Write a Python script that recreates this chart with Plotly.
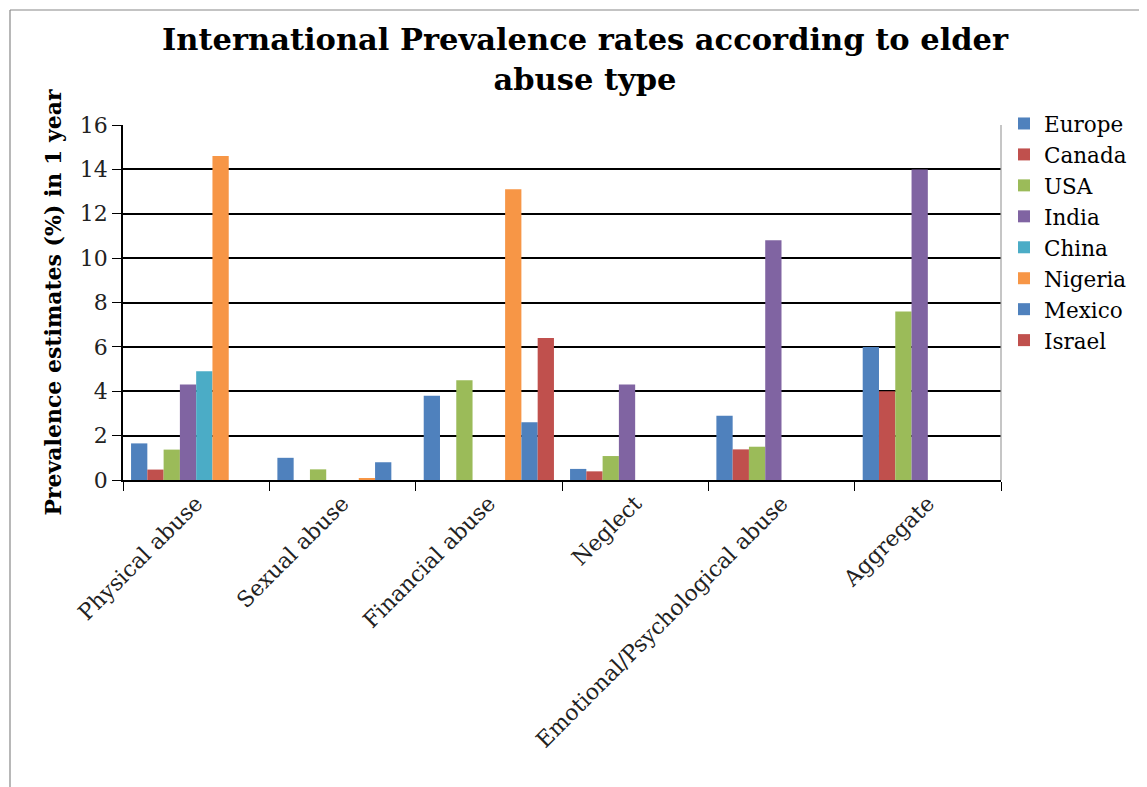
import plotly.graph_objects as go

categories = ["Physical abuse", "Sexual abuse", "Financial abuse", "Neglect",
              "Emotional/Psychological abuse", "Aggregate"]
series_names = ["Europe", "Canada", "USA", "India", "China", "Nigeria", "Mexico", "Israel"]
europe = [1.65, 1.0, 3.8, 0.5, 2.9, 6.0]
canada = [0.47, None, None, 0.39, 1.38, 4.0]
usa = [1.37, 0.48, 4.5, 1.08, 1.5, 7.6]
india = [4.3, None, None, 4.3, 10.8, 14.0]
china = [4.9, None, None, None, None, None]
nigeria = [14.6, 0.06, 13.1, None, None, None]
mexico = [None, 0.8, 2.6, None, None, None]
israel = [None, None, 6.4, None, None, None]
series_values = [europe, canada, usa, india, china, nigeria, mexico, israel]
colors = ["#4F81BD", "#C0504D", "#9BBB59", "#8064A2", "#4BACC6", "#F79646", "#4F81BD", "#C0504D"]
y_ticks = [0, 2, 4, 6, 8, 10, 12, 14, 16]

FONT = "DejaVu Serif"

fig = go.Figure()
for name, vals, col in zip(series_names, series_values, colors):
    fig.add_trace(go.Bar(name=name, x=categories, y=vals, marker=dict(color=col, line=dict(width=0))))

# page has an 8px body margin; figure coordinates = screen - 8
W, H = 1139, 779
L, T = 115, 117
pw, ph = 878, 355
R, B = W - L - pw, H - T - ph
bottom = T + ph  # figure y of plot bottom


def py(fig_y):
    return (bottom - fig_y) / ph


def px(fig_x):
    return (fig_x - L) / pw


fig.update_layout(
    width=W, height=H,
    barmode="group", bargap=0.11, bargroupgap=0,
    plot_bgcolor="white", paper_bgcolor="white",
    margin=dict(l=L, r=R, t=T, b=B, autoexpand=False),
    font=dict(family=FONT, color="black"),
    title=dict(text="<b>International Prevalence rates according to elder<br>abuse type</b>",
               x=px(577), xref="paper", xanchor="center",
               y=1 - 42 / H, yref="container", yanchor="middle",
               font=dict(family=FONT, size=30.5, color="black")),
    legend=dict(x=px(996), y=py(95), xanchor="left", yanchor="top",
                font=dict(family=FONT, size=21.5, color="black"),
                tracegroupgap=0, itemwidth=30, bgcolor="rgba(0,0,0,0)"),
    showlegend=True,
)
fig.update_xaxes(
    type="category", tickson="boundaries", ticks="outside", ticklen=9, tickcolor="black",
    showline=True, linecolor="black", linewidth=1.5, tickangle=-45,
    tickfont=dict(family=FONT, size=22, color="#222"), showgrid=False,
)
fig.update_yaxes(
    range=[0, 16], tickvals=y_ticks, ticks="outside", ticklen=9, tickcolor="black",
    showline=True, linecolor="black", linewidth=1.5,
    showgrid=True, gridcolor="black", gridwidth=1.5,
    tickfont=dict(family=FONT, size=22, color="#222"),
    title=dict(text="<b>Prevalence estimates (%) in 1 year</b>", standoff=12,
               font=dict(family=FONT, size=22, color="black")),
)
# right plot-area border and outer chart border
fig.add_shape(type="line", xref="paper", yref="paper", x0=1, x1=1, y0=0, y1=1,
              line=dict(color="#A0A0A0", width=1.2))
fig.add_shape(type="line", xref="paper", yref="paper", x0=px(2), x1=px(2),
              y0=py(H), y1=py(2), line=dict(color="#888", width=1.2))
fig.add_shape(type="line", xref="paper", yref="paper", x0=px(2), x1=px(W),
              y0=py(2), y1=py(2), line=dict(color="#888", width=1.2))

fig.write_html("out.html")
